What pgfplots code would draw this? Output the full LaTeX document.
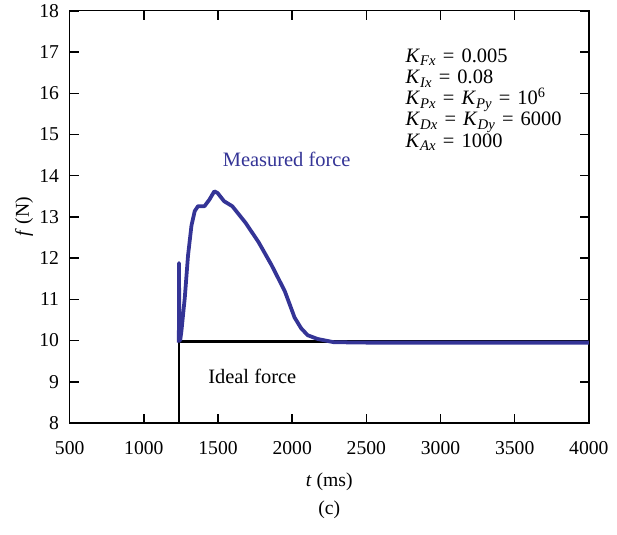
\documentclass[border=0pt]{standalone}
\usepackage{pgfplots}
\pgfplotsset{compat=1.18}
\usepackage{fontspec}
\setmainfont{Liberation Serif}
\definecolor{meas}{RGB}{52,52,150}
\newcommand{\Ks}[1]{\textit{K}\raisebox{-0.35ex}{\fontsize{9}{9}\selectfont\textit{#1}}}
\newcommand{\eqs}{\hspace{0.35em}=\hspace{0.35em}}
\begin{document}
\begin{tikzpicture}
\useasboundingbox (-42.6pt,-68.2pt) rectangle (334.6pt,258.6pt);
\begin{axis}[
  name=ax,
  at={(0pt,0pt)}, anchor=south west,
  scale only axis,
  width=317.4pt, height=252pt,
  xmin=500, xmax=4000, ymin=8, ymax=18,
  xtick={500,1000,...,4000}, ytick={8,9,...,18},
  tick align=inside, tick pos=both,
  major tick length=5.4pt,
  axis line style={line width=0.8pt},
  every tick/.style={line width=0.9pt, black},
  tick label style={font=\fontsize{12}{14}\selectfont},
  /pgf/number format/assume math mode=true,
  /pgf/number format/1000 sep={},
  xticklabel style={yshift=-8pt},
  yticklabel style={xshift=-3pt},
  xlabel={\textit{t} (ms)},
  ylabel={\textit{f} (N)},
  label style={font=\fontsize{12}{14}\selectfont},
  xlabel style={yshift=-4pt},
  ylabel style={yshift=-3pt},
  clip=true,
]
% ideal force
\addplot[black, line width=1.7pt] coordinates {
(1237,8) (1237,9.98) (4000,9.98)
};
% measured force
\addplot[meas, line width=2.3pt, line join=round] coordinates {
(1236,9.95) (1237,11.88) (1239,10.3) (1245,10.0) (1254,10.25) (1276,11.04) (1298,12.07)
(1321,12.79) (1343,13.14) (1365,13.26) (1409,13.26) (1442,13.42)
(1475,13.62) (1497,13.58) (1541,13.38) (1596,13.26) (1685,12.86)
(1773,12.39) (1861,11.83) (1950,11.2) (2016,10.56) (2060,10.3) (2104,10.13)
(2170,10.04) (2280,9.96) (2500,9.95) (3000,9.95) (4000,9.95)
};
\node[meas, font=\fontsize{12.5}{14}\selectfont] at (axis cs:1963,14.4) {Measured force};
\node[black, font=\fontsize{12.5}{14}\selectfont] at (axis cs:1731,9.14) {Ideal force};
\node[anchor=north west, align=left, inner sep=0pt, font=\fontsize{12.5}{12.9}\selectfont]
  at (axis cs:2763,17.08) {%
  \Ks{Fx}\eqs 0.005\\
  \Ks{Ix}\eqs 0.08\\
  \Ks{Px}\eqs \Ks{Py}\eqs 10\textsuperscript{6}\\
  \Ks{Dx}\eqs \Ks{Dy}\eqs 6000\\
  \Ks{Ax}\eqs 1000};
\end{axis}
\node[font=\fontsize{12}{14}\selectfont] at ([yshift=-52.8pt]ax.south) {(c)};
\end{tikzpicture}
\end{document}
